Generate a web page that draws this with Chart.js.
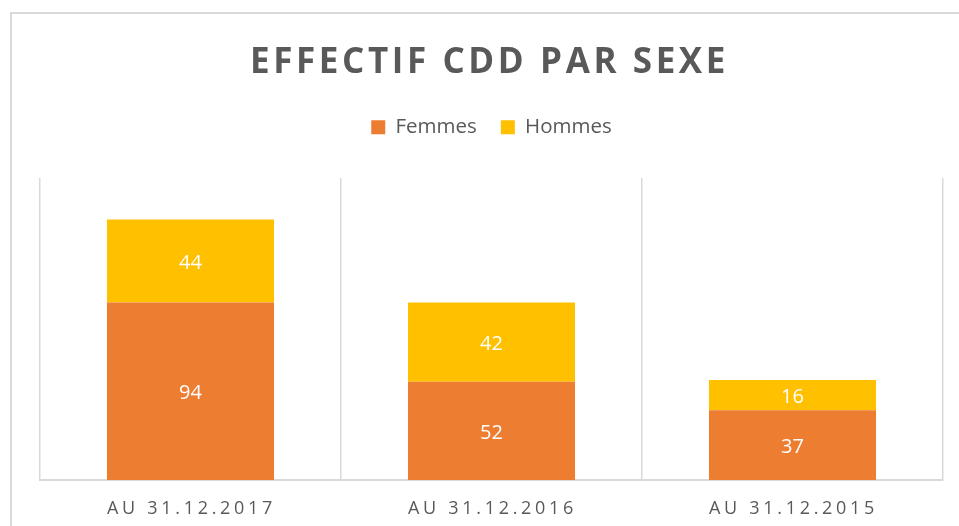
<!DOCTYPE html>
<html>
<head>
<meta charset="utf-8">
<script src="https://cdn.jsdelivr.net/npm/chart.js@4"></script>
<style>
    html, body { margin: 0; padding: 0; background: #fff; overflow: hidden; }
    #cadre { position: absolute; left: 10px; top: 12px; width: 980px; height: 540px; border: 2px solid #d9d9d9; box-sizing: border-box; }
    #zone { position: absolute; left: 0; top: 0; width: 959px; height: 526px; }
</style>
</head>
<body>
<div id="cadre"></div>
<div id="zone"><canvas id="graphiqueCdd"></canvas></div>
<script>
const graphiqueCdd = document.getElementById('graphiqueCdd');

// Données
const titre = 'EFFECTIF CDD PAR SEXE';
const dates = ['AU 31.12.2017', 'AU 31.12.2016', 'AU 31.12.2015'];
const femmes = [94, 52, 37];
const hommes = [44, 42, 16];

const gris = '#595959';

// titre, étiquettes de l'axe X (espacées) et valeurs dans les barres
const pluginTextes = {
    id: 'textes',
    afterDraw(chart) {
        const c = chart.ctx;
        const zone = chart.chartArea;
        c.save();
        c.fillStyle = gris;
        c.textAlign = 'center';
        c.textBaseline = 'alphabetic';
        c.font = 'bold 35px "Open Sans"';
        c.letterSpacing = '3.6px';
        c.fillText(titre, (zone.left + zone.right) / 2 - 2, 73);

        c.font = '18px "Open Sans"';
        c.letterSpacing = '3.7px';
        const echelleX = chart.scales.x;
        dates.forEach(function (d, i) {
            c.fillText(d, echelleX.getPixelForValue(i) + 1, 514);
        });

        c.letterSpacing = '0px';
        c.font = '20px "Open Sans"';
        c.fillStyle = '#ffffff';
        c.textBaseline = 'middle';
        chart.data.datasets.forEach(function (ds, k) {
            chart.getDatasetMeta(k).data.forEach(function (barre, i) {
                c.fillText(ds.data[i], barre.x, (barre.y + barre.base) / 2 + 2);
            });
        });
        c.restore();
    }
};

// espace sous la légende
const pluginLegende = {
    id: 'margeLegende',
    beforeInit(chart) {
        const fitOrigine = chart.legend.fit;
        chart.legend.fit = function () {
            fitOrigine.bind(chart.legend)();
            this.height = 85;
        };
    }
};

const dadosCdd = {
    labels: dates,
    datasets: [{
        label: 'Femmes',
        data: femmes,
        backgroundColor: '#ED7D31',
        categoryPercentage: 1,
        barPercentage: 0.555
    },
    {
        label: 'Hommes',
        data: hommes,
        backgroundColor: '#FFC000',
        categoryPercentage: 1,
        barPercentage: 0.555
    }]
};

const dashCdd = new Chart(graphiqueCdd, {
    type: 'bar',
    data: dadosCdd,
    plugins: [pluginLegende, pluginTextes],
    options: {
        responsive: true,
        maintainAspectRatio: false,
        animation: false,
        layout: {
            padding: { top: 93, left: 40, right: 16, bottom: 46 }
        },
        plugins: {
            title: { display: false },
            tooltip: { enabled: false },
            legend: {
                display: true,
                position: 'top',
                labels: {
                    boxWidth: 14,
                    boxHeight: 14,
                    padding: 24,
                    color: gris,
                    font: { family: '"Open Sans"', size: 20.5 }
                }
            }
        },
        scales: {
            x: {
                stacked: true,
                grid: {
                    display: true,
                    offset: true,
                    drawTicks: false,
                    color: '#d9d9d9',
                    lineWidth: 1.5
                },
                border: { display: true, color: '#d9d9d9', width: 2 },
                ticks: { display: false }
            },
            y: {
                stacked: true,
                display: false,
                min: 0,
                max: 160
            }
        }
    }
});
</script>
</body>
</html>
